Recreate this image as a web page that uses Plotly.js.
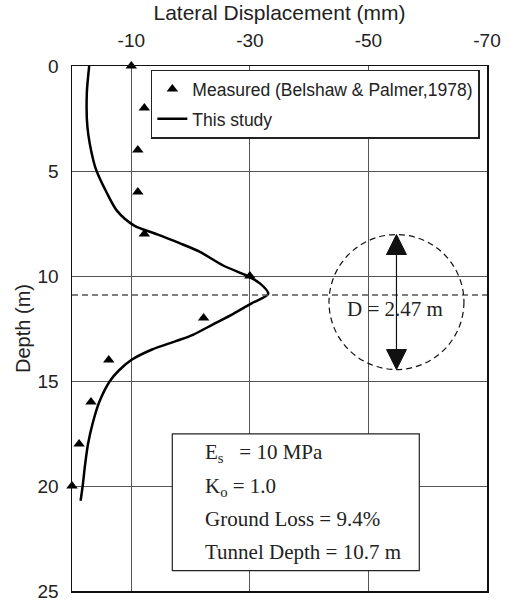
<!DOCTYPE html>
<html>
<head>
<meta charset="utf-8">
<script src="https://cdn.plot.ly/plotly-3.0.1.min.js"></script>
<style>html,body{margin:0;padding:0;background:#fff;}#chart{width:511px;height:604px;}</style>
</head>
<body>
<div id="chart"></div>
<script>
// Measured data (Belshaw & Palmer, 1978)
const measuredDisp  = [-10, -12.2, -11.1, -11.1, -12.2, -30, -22.2, -6.2, -3.2, -1.2, 0];
const measuredDepth = [0, 2, 4, 6, 8, 10, 12, 14, 16, 18, 20];

// This study (computed profile)
const studyDisp  = [-2.9, -2.5, -2.6, -3.6, -4.15, -5.8, -7.6, -10.5, -14.2, -18.7, -21.5, -25.5, -29.6, -31.7, -33.1, -30.3, -27.2, -23.8, -20.4, -17.5, -13.5, -10, -7.9, -6.4, -4.6, -3.5, -2.7, -2.2, -1.8, -1.45];
const studyDepth = [0, 1.3, 2.9, 4.5, 5, 6, 6.9, 7.6, 8, 8.5, 8.84, 9.5, 10, 10.35, 10.85, 11.3, 11.8, 12.3, 12.8, 13.1, 13.5, 14, 14.5, 15, 16, 17, 18, 19, 20, 20.7];

// Axis ticks
const xTickVals = [-10, -30, -50, -70];
const xTickText = ["-10", "-30", "-50", "-70"];
const yTickVals = [0, 5, 10, 15, 20, 25];

// Annotation content
const tunnelDepthLine = 10.9;
const tunnelCenter = {x: -54.73, y: 11.24};
const tunnelRadius = {x: 11.38, y: 3.214};
const diameterLabel = "D = 2.47 m";
const infoLines = ["E<sub>s</sub>\u2002 = 10 MPa", "K<sub>o</sub> = 1.0", "Ground Loss = 9.4%", "Tunnel Depth = 10.7 m"];
const infoLineDepths = [18.43, 20.03, 21.57, 23.13];

const sans = '"Liberation Sans", Arial, sans-serif';
const serif = '"Liberation Serif", "Times New Roman", serif';

const traces = [
  {
    x: measuredDisp, y: measuredDepth, type: 'scatter', mode: 'markers',
    name: 'Measured (Belshaw & Palmer,1978)', legendgroup: 'a',
    marker: {symbol: 'triangle-up', size: 10, color: '#000'},
    cliponaxis: false
  },
  {
    x: studyDisp, y: studyDepth, type: 'scatter', mode: 'lines',
    name: 'This study', legendgroup: 'b',
    line: {color: '#000', width: 2.5, shape: 'spline', smoothing: 0.8}
  }
];

const cx = tunnelCenter.x, cy = tunnelCenter.y;
const cTop = cy - tunnelRadius.y, cBot = cy + tunnelRadius.y;
const headH = 0.95, headW = 1.68;

const shapes = [
  {type: 'line', xref: 'paper', x0: 0, x1: 1, yref: 'y', y0: tunnelDepthLine, y1: tunnelDepthLine,
   line: {color: '#555', width: 1.5, dash: '6px,4px'}, layer: 'above'},
  {type: 'circle', xref: 'x', yref: 'y', x0: cx + tunnelRadius.x, x1: cx - tunnelRadius.x, y0: cTop, y1: cBot,
   line: {color: '#111', width: 1.2, dash: '6px,4px'}, layer: 'above'},
  {type: 'line', xref: 'x', yref: 'y', x0: cx, x1: cx, y0: cTop + headH, y1: cBot - headH,
   line: {color: '#111', width: 1.2}, layer: 'above'},
  {type: 'path', xref: 'x', yref: 'y',
   path: `M ${cx},${cTop} L ${cx - headW},${cTop + headH} L ${cx + headW},${cTop + headH} Z`,
   fillcolor: '#111', line: {color: '#111', width: 1}, layer: 'above'},
  {type: 'path', xref: 'x', yref: 'y',
   path: `M ${cx},${cBot} L ${cx - headW},${cBot - headH} L ${cx + headW},${cBot - headH} Z`,
   fillcolor: '#111', line: {color: '#111', width: 1}, layer: 'above'},
  {type: 'rect', xref: 'x', yref: 'y', x0: -16.92, x1: -58.58, y0: 17.52, y1: 24.03,
   fillcolor: '#fff', line: {color: '#222', width: 1.2}, layer: 'above'}
];

const annotations = [
  {xref: 'x', yref: 'y', x: cx + 0.3, y: 11.55, text: diameterLabel, showarrow: false,
   font: {family: serif, size: 21, color: '#222'}, xanchor: 'center', yanchor: 'middle'}
];
infoLines.forEach((t, i) => {
  annotations.push({xref: 'x', yref: 'y', x: -22.04, y: infoLineDepths[i], text: t, showarrow: false,
    font: {family: serif, size: 21, color: '#222'}, xanchor: 'left', yanchor: 'middle', align: 'left'});
});

const layout = {
  width: 511, height: 604,
  margin: {l: 72, r: 24, t: 66, b: 13, pad: 0},
  paper_bgcolor: '#fff', plot_bgcolor: '#fff',
  font: {family: sans, size: 18, color: '#222'},
  showlegend: true,
  legend: {
    x: 0.19, y: 0.993, xanchor: 'left', yanchor: 'top',
    bgcolor: '#fff', bordercolor: '#222', borderwidth: 1.5,
    font: {family: sans, size: 17.5, color: '#222'},
    traceorder: 'grouped', tracegroupgap: 4
  },
  xaxis: {
    side: 'top', range: [0, -70], tickvals: xTickVals, ticktext: xTickText,
    showgrid: true, gridcolor: '#555', gridwidth: 1,
    showline: true, linecolor: '#111', linewidth: 1.5, mirror: true,
    ticks: '', ticklabelstandoff: 10, zeroline: false,
    tickfont: {family: sans, size: 19, color: '#222'},
    title: {text: 'Lateral Displacement (mm)', font: {family: sans, size: 21, color: '#222'}, standoff: 3}
  },
  yaxis: {
    range: [25, 0], tickvals: yTickVals,
    showgrid: true, gridcolor: '#555', gridwidth: 1,
    showline: true, linecolor: '#111', linewidth: 1.5, mirror: true,
    ticks: '', ticklabelstandoff: 8, zeroline: false,
    tickfont: {family: sans, size: 19, color: '#222'},
    title: {text: 'Depth (m)', font: {family: sans, size: 20, color: '#222'}, standoff: 1}
  },
  shapes: shapes,
  annotations: annotations
};

Plotly.newPlot('chart', traces, layout, {displayModeBar: false, staticPlot: true});
</script>
</body>
</html>
